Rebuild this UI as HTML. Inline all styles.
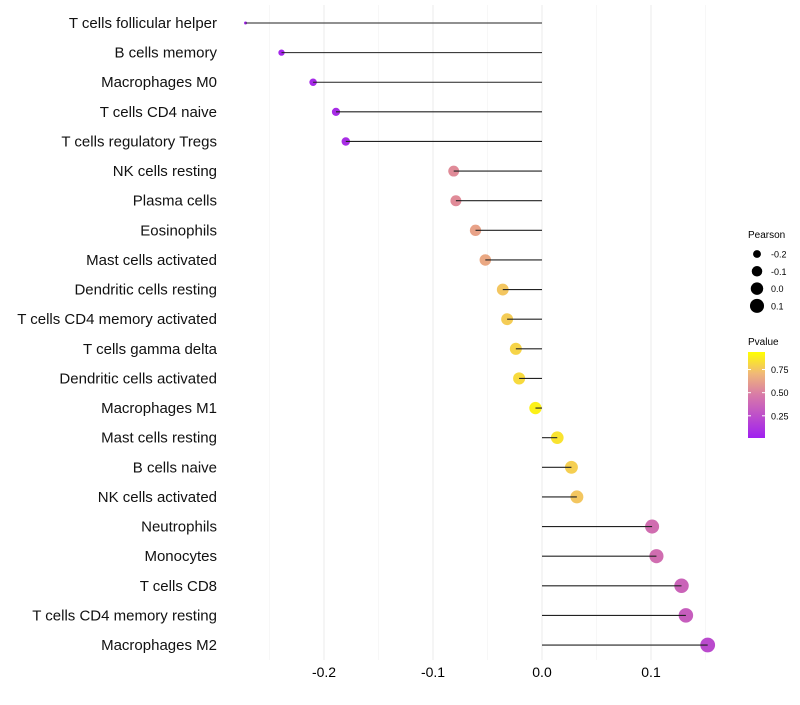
<!DOCTYPE html>
<html><head><meta charset="utf-8"><style>
body{margin:0;background:#fff;font-family:"Liberation Sans",sans-serif;}
</style></head><body>
<svg id="chart" width="800" height="700" xmlns="http://www.w3.org/2000/svg" font-family="Liberation Sans, sans-serif">
<defs><linearGradient id="pg" x1="0" y1="1" x2="0" y2="0">
<stop offset="0" stop-color="#a020f0"/><stop offset="0.5" stop-color="#d87aa8"/><stop offset="0.75" stop-color="#f0b878"/><stop offset="1" stop-color="#ffff00"/>
</linearGradient></defs>
<g id="grid"></g><g id="marks"></g><g id="labels"></g>
<g>
<text x="748" y="238" font-size="10">Pearson</text>
</g>
<g id="sizeLeg"></g>
<g>
<text x="748" y="345" font-size="10">Pvalue</text>
<rect x="748" y="352" width="17" height="86" fill="url(#pg)"/>
</g>
<g id="colLeg"></g>
</svg>
<script>
const categories=["T cells follicular helper","B cells memory","Macrophages M0","T cells CD4 naive","T cells regulatory  Tregs ","NK cells resting","Plasma cells","Eosinophils","Mast cells activated","Dendritic cells resting","T cells CD4 memory activated","T cells gamma delta","Dendritic cells activated","Macrophages M1","Mast cells resting","B cells naive","NK cells activated","Neutrophils","Monocytes","T cells CD8","T cells CD4 memory resting","Macrophages M2"];
const pearson=[-0.272,-0.239,-0.210,-0.189,-0.180,-0.081,-0.079,-0.061,-0.052,-0.036,-0.032,-0.024,-0.021,-0.006,0.014,0.027,0.032,0.101,0.105,0.128,0.132,0.152];
const pvalue=[0.02,0.03,0.05,0.06,0.07,0.55,0.55,0.65,0.68,0.8,0.82,0.85,0.87,0.95,0.9,0.83,0.8,0.4,0.4,0.35,0.32,0.22];
const xTicks=[-0.2,-0.1,0.0,0.1];
const xTickLabels=["-0.2","-0.1","0.0","0.1"];
const sizeLegend=[-0.2,-0.1,0.0,0.1];
const sizeLegendLabels=["-0.2","-0.1","0.0","0.1"];
const colorTicks=[0.25,0.5,0.75];
const colorTickLabels=["0.25","0.50","0.75"];
const NS="http://www.w3.org/2000/svg";
const X=v=>542+v*1090;
const Y=i=>23+i*29.62;
const pMin=Math.min(...pearson),pMax=Math.max(...pearson);
const R=v=>1.5+5.9*Math.sqrt(Math.max(0,(v-pMin)/(pMax-pMin)));
function hex(c){return [parseInt(c.slice(1,3),16),parseInt(c.slice(3,5),16),parseInt(c.slice(5,7),16)];}
const stops=[[0,"#a020f0"],[0.5,"#dc80a0"],[0.75,"#f0b878"],[1,"#ffff00"]];
function col(p){for(let k=0;k<stops.length-1;k++){const [a,ca]=stops[k],[b,cb]=stops[k+1];if(p<=b||k==stops.length-2){const t=Math.max(0,Math.min(1,(p-a)/(b-a)));const A=hex(ca),B=hex(cb);return "rgb("+A.map((x,j)=>Math.round(x+(B[j]-x)*t)).join(",")+")";}}}
function mk(tag,at,parent){const e=document.createElementNS(NS,tag);for(const k in at)e.setAttribute(k,at[k]);document.getElementById(parent).appendChild(e);return e;}
[-0.25,-0.15,-0.05,0.05,0.15].forEach(v=>{const l=mk("line",{x1:X(v),x2:X(v),y1:5,y2:660,stroke:"#f2f2f2","stroke-width":0.6},"grid");

});
xTicks.forEach((v,i)=>{const l=mk("line",{x1:X(v),x2:X(v),y1:5,y2:660,stroke:"#ebebeb","stroke-width":1},"grid");


const t=mk("text",{x:X(v),y:677,"font-size":14,"text-anchor":"middle",fill:"#000"},"labels");t.textContent=xTickLabels[i];

});
categories.forEach((c,i)=>{
const y=Y(i);
const d=mk("circle",{cx:X(pearson[i]),cy:y,r:R(pearson[i]),fill:col(pvalue[i])},"marks");


const s=mk("line",{x1:X(0),x2:X(pearson[i]),y1:y,y2:y,stroke:"#222","stroke-width":1.1},"marks");


const t=mk("text",{x:217,y:y+5,"font-size":15,"text-anchor":"end",fill:"#111","xml:space":"preserve"},"labels");t.textContent=c;


});
sizeLegend.forEach((v,i)=>{const y=254+i*17.3;
const c=mk("circle",{cx:757,cy:y,r:R(v),fill:"#000"},"sizeLeg");


const t=mk("text",{x:771,y:y+3.5,"font-size":9},"sizeLeg");t.textContent=sizeLegendLabels[i];

});
colorTicks.forEach((v,i)=>{const y=438-(v-0.01)*92.5;
const l=mk("line",{x1:748,x2:751,y1:y,y2:y,stroke:"#fff"},"colLeg");


const l2=mk("line",{x1:762,x2:765,y1:y,y2:y,stroke:"#fff"},"colLeg");


const t=mk("text",{x:771,y:y+3.5,"font-size":9},"colLeg");t.textContent=colorTickLabels[i];

});
</script>
</body></html>
